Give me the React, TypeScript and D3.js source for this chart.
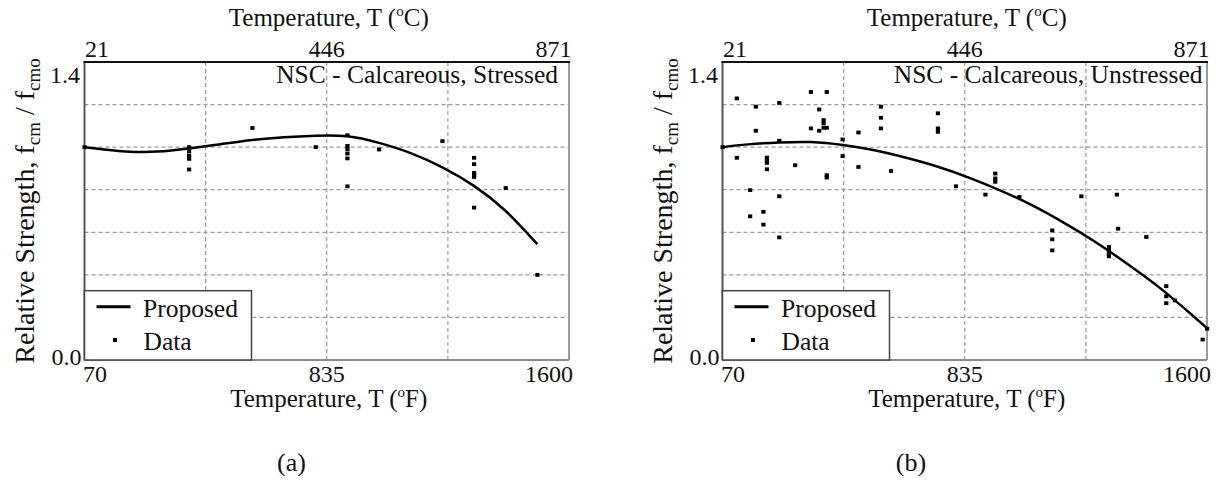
import React from "react";
import * as d3 from "d3";

// Axis tick values
const fahrenheitTicks = [70, 835, 1600];
const celsiusTicks = [21, 446, 871];
const strengthTicks = [0, 1.4];
const gridFahrenheit = [452.5, 835, 1217.5];
const gridStrength = [0.2, 0.4, 0.6, 0.8, 1.0, 1.2];

// Test data [temperature °F, f_cm / f_cmo]
const stressedData: [number, number][] = [
  [70, 1.0],
  [400, 1.0], [400, 0.98], [400, 0.96], [400, 0.945], [400, 0.895],
  [600, 1.09],
  [800, 1.0],
  [900, 1.056], [900, 1.006], [900, 0.99], [900, 0.97], [900, 0.947], [900, 0.816],
  [1000, 0.989],
  [1200, 1.028],
  [1300, 0.95], [1300, 0.92], [1300, 0.879], [1300, 0.868], [1300, 0.86], [1300, 0.716],
  [1400, 0.808],
  [1500, 0.4],
];

const unstressedData: [number, number][] = [
  [70, 1.0],
  [115, 1.229], [115, 0.95],
  [157, 0.798], [157, 0.675],
  [175, 1.19], [175, 1.077],
  [199, 0.696], [199, 0.636],
  [210, 0.951], [210, 0.939], [210, 0.926], [210, 0.896],
  [249, 1.208], [249, 1.03], [249, 0.769], [249, 0.576],
  [299, 0.915],
  [349, 1.259], [349, 1.088],
  [375, 1.177], [375, 1.077],
  [389, 1.127], [389, 1.112], [389, 1.091],
  [399, 1.259], [399, 1.091], [399, 0.868], [399, 0.857],
  [449, 1.036], [449, 0.958],
  [499, 1.069], [499, 0.907],
  [570, 1.19], [570, 1.138], [570, 1.088],
  [602, 0.888],
  [750, 1.159], [750, 1.088], [750, 1.072],
  [807, 0.816],
  [900, 0.777],
  [931, 0.876], [931, 0.853], [931, 0.837],
  [1007, 0.766],
  [1111, 0.609], [1111, 0.567], [1111, 0.515],
  [1203, 0.769],
  [1290, 0.531], [1290, 0.515], [1290, 0.5], [1290, 0.487],
  [1315, 0.777], [1319, 0.617],
  [1408, 0.578],
  [1471, 0.347], [1471, 0.299], [1471, 0.267],
  [1498, 0.28],
  [1586, 0.096],
  [1600, 0.147],
];

// Proposed relationship, sampled along temperature
const stressedCurve: [number, number][] = [
  [70, 1.0], [200, 0.98], [300, 0.979], [400, 0.994], [500, 1.014],
  [600, 1.034], [700, 1.047], [800, 1.054], [900, 1.051], [1000, 1.02],
  [1100, 0.972], [1200, 0.905], [1300, 0.818], [1400, 0.7], [1500, 0.544],
];

const unstressedCurve: [number, number][] = [
  [70, 1.0], [150, 1.013], [250, 1.022], [350, 1.024], [450, 1.01],
  [550, 0.985], [650, 0.95], [750, 0.908], [850, 0.856], [950, 0.795],
  [1050, 0.725], [1150, 0.643], [1250, 0.552], [1350, 0.45], [1450, 0.34],
  [1550, 0.215], [1600, 0.15],
];

const FONT = "Liberation Serif, DejaVu Serif, serif";
const TOP = 62;
const BOTTOM = 360;
const PW = 484.5;

type PanelProps = {
  x0: number;
  label: string;
  labelInset: number;
  data: [number, number][];
  curve: [number, number][];
  caption: string;
  captionX: number;
};

function Panel({ x0, label, labelInset, data, curve, caption, captionX }: PanelProps) {
  const xF = d3.scaleLinear().domain([70, 1600]).range([x0, x0 + PW]);
  const xC = d3.scaleLinear().domain([21, 871]).range([x0, x0 + PW]);
  const y = d3.scaleLinear().domain([0, 1.4]).range([BOTTOM, TOP]);
  const line = d3
    .line<[number, number]>()
    .x((d) => xF(d[0]))
    .y((d) => y(d[1]))
    .curve(d3.curveNatural);
  const fmt = d3.format(".1f");
  const anchors = ["start", "middle", "end"] as const;
  const bottomShift = [-1.5, 0, 4];
  const topShift = [0.5, 0, 2.5];
  const cx = x0 + PW / 2 + 2;

  return (
    <g style={{ fontFamily: FONT }} fill="#111">
      {/* grid */}
      <g stroke="#9a9a9a" strokeWidth={1.2} strokeDasharray="4 3">
        {gridStrength.map((v) => (
          <line key={"h" + v} x1={x0} x2={x0 + PW} y1={y(v)} y2={y(v)} />
        ))}
        {gridFahrenheit.map((t) => (
          <line key={"v" + t} x1={xF(t)} x2={xF(t)} y1={TOP} y2={BOTTOM} />
        ))}
      </g>

      {/* frame */}
      <line x1={x0 + PW} x2={x0 + PW} y1={TOP} y2={BOTTOM} stroke="#999" strokeWidth={2} />
      <line x1={x0} x2={x0 + PW} y1={BOTTOM} y2={BOTTOM} stroke="#8a8a8a" strokeWidth={2} />
      <line x1={x0} x2={x0} y1={TOP} y2={BOTTOM} stroke="#555" strokeWidth={2} />
      <line x1={x0 - 1} x2={x0 + PW + 1} y1={TOP} y2={TOP} stroke="#111" strokeWidth={2} />

      {/* data */}
      <g fill="#000">
        {data.map((d, i) => (
          <rect key={i} x={xF(d[0]) - 2} y={y(d[1]) - 1.9} width={4.2} height={3.8} />
        ))}
      </g>
      <path d={line(curve) ?? ""} fill="none" stroke="#000" strokeWidth={2.5} />

      {/* legend */}
      <rect x={x0} y={290.7} width={167} height={BOTTOM - 290.7} fill="#fff" stroke="#444" strokeWidth={1.5} />
      <line x1={x0 + 12} x2={x0 + 46} y1={306.7} y2={306.7} stroke="#000" strokeWidth={3} />
      <text x={x0 + 58.5} y={316.7} fontSize={25.5}>Proposed</text>
      <rect x={x0 + 28.5} y={338} width={4} height={4} fill="#000" />
      <text x={x0 + 59} y={350} fontSize={25.5}>Data</text>

      {/* panel label */}
      <text x={x0 + PW - labelInset} y={83.3} fontSize={25.5} textAnchor="end">{label}</text>

      {/* bottom axis */}
      {fahrenheitTicks.map((t, i) => (
        <text key={"f" + t} x={xF(t) + bottomShift[i]} y={381.7} fontSize={24} textAnchor={anchors[i]}>
          {t}
        </text>
      ))}
      <text x={cx} y={406.7} fontSize={25} textAnchor="middle">
        Temperature, T (<tspan fontSize={15} dy={-10}>o</tspan><tspan dy={10}>F)</tspan>
      </text>

      {/* top axis */}
      {celsiusTicks.map((t, i) => (
        <text key={"c" + t} x={xC(t) + topShift[i]} y={57.3} fontSize={24} textAnchor={anchors[i]}>
          {t}
        </text>
      ))}
      <text x={cx} y={26.3} fontSize={25} textAnchor="middle">
        Temperature, T (<tspan fontSize={15} dy={-10}>o</tspan><tspan dy={10}>C)</tspan>
      </text>

      {/* left axis */}
      {strengthTicks.map((v) => (
        <text
          key={"s" + v}
          x={v === 0 ? x0 - 3 : x0 - 4.5}
          y={v === 0 ? y(v) + 5 : y(v) + 21}
          fontSize={24}
          textAnchor="end"
        >
          {fmt(v)}
        </text>
      ))}
      <text transform={`translate(${x0 - 50.5},${(TOP + BOTTOM) / 2}) rotate(-90)`} fontSize={28} textAnchor="middle">
        Relative Strength, f<tspan fontSize={19} dy={6}>cm</tspan>
        <tspan dy={-6}> / f</tspan>
        <tspan fontSize={19} dy={6}>cmo</tspan>
      </text>

      {/* caption */}
      <text x={captionX} y={471} fontSize={26} textAnchor="middle">{caption}</text>
    </g>
  );
}

export default function App() {
  return (
    <svg
      width={1216}
      height={480}
      viewBox="0 0 1216 480"
      style={{ position: "absolute", left: 0, top: 0, background: "#fff" }}
    >
      <rect width={1216} height={480} fill="#fff" />
      <Panel
        x0={84.5}
        label="NSC - Calcareous, Stressed"
        labelInset={11}
        data={stressedData}
        curve={stressedCurve}
        caption="(a)"
        captionX={291.5}
      />
      <Panel
        x0={722.5}
        label="NSC - Calcareous, Unstressed"
        labelInset={4.5}
        data={unstressedData}
        curve={unstressedCurve}
        caption="(b)"
        captionX={911}
      />
    </svg>
  );
}
